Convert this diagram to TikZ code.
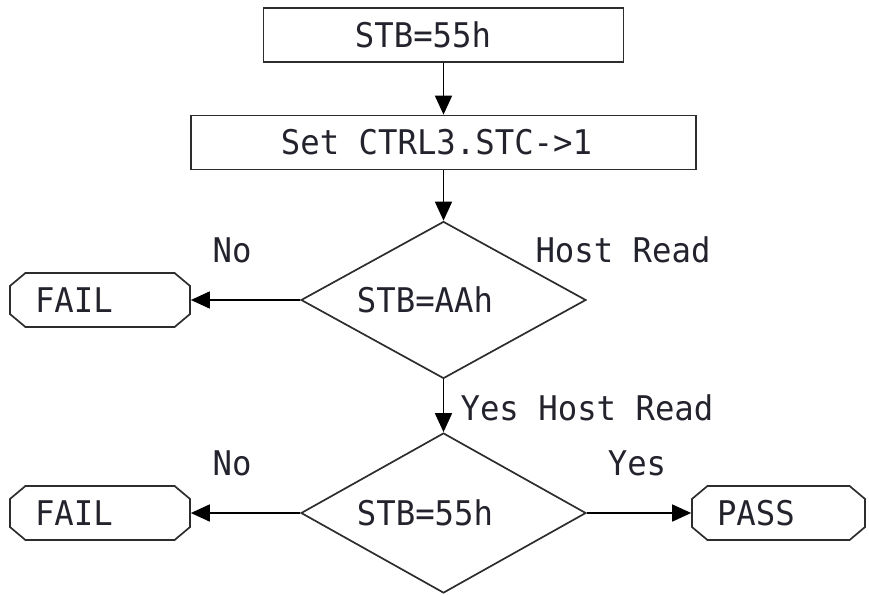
\documentclass[tikz,border=0pt]{standalone}
\usepackage{fontspec}
\setmonofont[FakeStretch=0.95]{DejaVu Sans Mono}
\usetikzlibrary{shapes.geometric,shapes.misc,arrows.meta}
\definecolor{lin}{RGB}{45,45,45}
\definecolor{txt}{RGB}{35,35,45}
\tikzset{
  procbox/.style={draw=lin, line width=1.7pt, minimum height=54pt, inner sep=0pt},
  decbox/.style={diamond, aspect=1.8, draw=lin, line width=1.7pt, inner sep=0pt,
    minimum width=285pt, minimum height=157pt},
  endbox/.style={chamfered rectangle, chamfered rectangle xsep=12pt,
    chamfered rectangle angle=50, draw=lin, line width=1.7pt,
    inner xsep=13pt, inner ysep=0pt, minimum height=54pt, align=left},
  flow/.style={line width=1.7pt, draw=black, -{Triangle[length=19pt,width=17pt]}},
  lbl/.style={inner sep=0pt, anchor=base}
}
\begin{document}
\begin{tikzpicture}[x=1pt, y=-1pt, font=\ttfamily\fontsize{34}{40}\selectfont, text=txt]
\useasboundingbox (0,0) rectangle (869,596);

% 处理框
\node[procbox, minimum width=360pt] (stb) at (443.5,35) {STB=55h\hspace*{41pt}};
\node[procbox, minimum width=505pt] (setctrl) at (443.5,142.5) {Set CTRL3.STC->1\hspace*{14pt}};

% 判断框
\node[decbox] (chk1) at (443.5,300) {STB=AAh\hspace*{37pt}};
\node[decbox, minimum height=160pt] (chk2) at (443.5,513) {STB=55h\hspace*{37pt}};

% 结束框
\node[endbox, text width=130pt] (fail1) at (100,300) {FAIL};
\node[endbox, text width=130pt] (fail2) at (100,513) {FAIL};
\node[endbox, text width=123pt] (pass) at (778.5,513) {PASS};

% 连线
\draw[flow] (stb) -- (setctrl);
\draw[flow] (setctrl) -- (chk1);
\draw[flow] (chk1) -- (chk2);
\draw[flow] (chk1.west) -- (fail1.east);
\draw[flow] (chk2.west) -- (fail2.east);
\draw[flow] (chk2.east) -- (pass.west);

% 标注
\node[lbl] (no1) at (232,262) {No};
\node[lbl] (read1) at (623,262) {Host Read};
\node[lbl] (read2) at (587,420) {Yes Host Read};
\node[lbl] (no2) at (232,475) {No};
\node[lbl] (yes2) at (637,475) {Yes};
\end{tikzpicture}
\end{document}
